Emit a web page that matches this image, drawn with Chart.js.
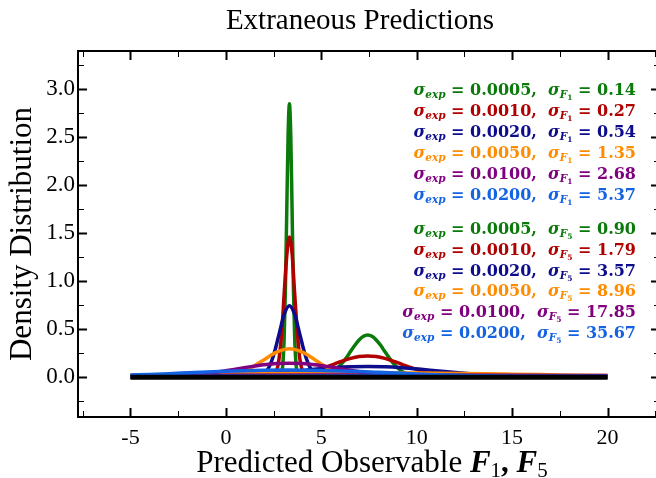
<!DOCTYPE html>
<html>
<head>
<meta charset="utf-8">
<title>Extraneous Predictions</title>
<script src="https://cdn.jsdelivr.net/npm/chart.js@4.4.1/dist/chart.umd.min.js"></script>
<style>
  html, body { margin: 0; padding: 0; background: #fff; overflow: hidden; }
  canvas { display: block; }
</style>
</head>
<body>
<canvas id="chart" width="680" height="478"></canvas>
<script>
// density curves for F1 (centred near 3.33) and F5 (centred near 7.43)
const sigmaExp = ['0.0005', '0.0010', '0.0020', '0.0050', '0.0100', '0.0200'];
const sigmaF1 = ['0.14', '0.27', '0.54', '1.35', '2.68', '5.37'];
const sigmaF5 = ['0.90', '1.79', '3.57', '8.96', '17.85', '35.67'];

const greenF1X = [-5, 2.70, 2.84, 2.91, 2.98, 3.05, 3.12, 3.19, 3.26, 3.33, 3.40, 3.47, 3.54, 3.61, 3.68, 3.75, 3.82, 3.96, 20];
const greenF1Y = [0, 0, 0.006, 0.032, 0.125, 0.386, 0.925, 1.729, 2.515, 2.85, 2.515, 1.729, 0.925, 0.386, 0.125, 0.032, 0.006, 0, 0];

const redF1X = [-5, 2.12, 2.39, 2.52, 2.66, 2.79, 2.93, 3.06, 3.20, 3.33, 3.47, 3.60, 3.74, 3.87, 4.01, 4.14, 4.28, 4.55, 20];
const redF1Y = [0, 0, 0.003, 0.016, 0.064, 0.198, 0.474, 0.886, 1.288, 1.46, 1.288, 0.886, 0.474, 0.198, 0.064, 0.016, 0.003, 0, 0];

const navyF1X = [-5, 0.90, 1.44, 1.71, 1.98, 2.25, 2.52, 2.79, 3.06, 3.33, 3.60, 3.87, 4.14, 4.41, 4.68, 4.95, 5.22, 5.76, 20];
const navyF1Y = [0, 0, 0.002, 0.008, 0.033, 0.101, 0.242, 0.452, 0.657, 0.745, 0.657, 0.452, 0.242, 0.101, 0.033, 0.008, 0.002, 0, 0];

const orangeF1X = [-5, -2.75, -1.40, -0.72, -0.05, 0.63, 1.31, 1.98, 2.66, 3.33, 4.01, 4.68, 5.36, 6.03, 6.71, 7.38, 8.06, 9.41, 20];
const orangeF1Y = [0, 0, 0.0007, 0.0033, 0.013, 0.040, 0.096, 0.180, 0.261, 0.296, 0.261, 0.180, 0.096, 0.040, 0.013, 0.0033, 0.0007, 0, 0];

const purpleF1X = [-5, -4.71, -3.37, -2.03, -0.69, -0.02, 0.65, 1.32, 1.99, 2.66, 3.33, 4.00, 4.67, 5.34, 6.01, 6.68, 7.35, 8.69, 10.03, 11.37, 12.71, 14.05, 20];
const purpleF1Y = [0.0012, 0.0016, 0.0064, 0.0198, 0.0474, 0.0668, 0.0885, 0.1102, 0.1288, 0.1415, 0.146, 0.1415, 0.1288, 0.1102, 0.0885, 0.0668, 0.0474, 0.0198, 0.0064, 0.0016, 0.0003, 0, 0];

const blueF1X = [-5, -4, -3, -2, -1, 0, 1, 2, 3, 3.33, 4, 5, 6, 7, 8, 9, 10, 11, 12, 13, 14, 15, 16, 17, 18, 19, 20];
const blueF1Y = [0.0222, 0.0291, 0.0369, 0.0452, 0.0535, 0.0611, 0.0673, 0.0718, 0.0739, 0.074, 0.0734, 0.0705, 0.0654, 0.0586, 0.0507, 0.0424, 0.0342, 0.0267, 0.0201, 0.0146, 0.0103, 0.0070, 0.0046, 0.0029, 0.0018, 0.0011, 0.0006];

const greenF5X = [-5, 3.38, 3.83, 4.28, 4.73, 5.18, 5.63, 5.86, 6.08, 6.31, 6.53, 6.76, 6.98, 7.21, 7.43, 7.66, 7.88, 8.11, 8.33, 8.56, 8.78, 9.01, 9.23, 9.68, 10.13, 10.58, 11.03, 11.48, 20];
const greenF5Y = [0, 0, 0.0001, 0.001, 0.0049, 0.0193, 0.0595, 0.0952, 0.1429, 0.2014, 0.2669, 0.3321, 0.3883, 0.4264, 0.44, 0.4264, 0.3883, 0.3321, 0.2669, 0.2014, 0.1429, 0.0952, 0.0595, 0.0193, 0.0049, 0.001, 0.0001, 0, 0];

const redF5X = [-5, -0.63, 0.27, 1.17, 2.06, 2.96, 3.85, 4.30, 4.75, 5.19, 5.64, 6.09, 6.54, 6.98, 7.43, 7.88, 8.33, 8.77, 9.22, 9.67, 10.12, 10.56, 11.01, 11.91, 12.80, 13.70, 14.59, 15.49, 20];
const redF5Y = [0, 0, 0.0001, 0.0005, 0.0025, 0.0097, 0.030, 0.048, 0.0721, 0.1016, 0.1346, 0.1676, 0.1959, 0.2152, 0.222, 0.2152, 0.1959, 0.1676, 0.1346, 0.1016, 0.0721, 0.048, 0.030, 0.0097, 0.0025, 0.0005, 0.0001, 0, 0];

const navyF5X = [-5, -3.28, -1.50, 0.29, 1.18, 2.08, 2.97, 3.86, 4.75, 5.65, 6.54, 7.43, 8.32, 9.22, 10.11, 11.00, 11.89, 12.79, 13.68, 14.57, 16.36, 18.14, 20];
const navyF5Y = [0.0003, 0.0012, 0.0049, 0.0152, 0.0242, 0.0364, 0.0513, 0.0679, 0.0845, 0.0988, 0.1086, 0.112, 0.1086, 0.0988, 0.0845, 0.0679, 0.0513, 0.0364, 0.0242, 0.0152, 0.0049, 0.0012, 0.0002];

const orangeF5X = [-5, -2.5, 0, 2.5, 5, 7.43, 10, 12.5, 15, 17.5, 20];
const orangeF5Y = [0.0170, 0.0241, 0.0316, 0.0382, 0.0429, 0.0445, 0.0427, 0.0379, 0.0311, 0.0237, 0.0166];

const purpleF5X = [-5, 0, 5, 7.43, 10, 15, 20];
const purpleF5Y = [0.0176, 0.0205, 0.0222, 0.0224, 0.0222, 0.0205, 0.0175];

const blueF5X = [-5, 0, 7.43, 15, 20];
const blueF5Y = [0.0105, 0.0110, 0.0112, 0.0110, 0.0105];

const zeroX = [-5, 20];
const zeroY = [0, 0];

const xMinorTicks = [-7.5, -2.5, 2.5, 7.5, 12.5, 17.5, 22.5];
const yMinorTicks = [-0.25, 0.25, 0.75, 1.25, 1.75, 2.25, 2.75, 3.25];

const GREEN = '#0a7a0a', RED = '#b00000', NAVY = '#0c0c8c', ORANGE = '#ff8c00', PURPLE = '#800080', BLUE = '#1463e2';
const rowColors = [GREEN, RED, NAVY, ORANGE, PURPLE, BLUE];

const SERIF = '"Liberation Serif", "Times New Roman", serif';
const BOLD_SERIF = '"DejaVu Serif", serif';

function curve(xs, ys, color, width) {
    return {
        data: xs.map((x, i) => ({ x: x, y: ys[i] })),
        borderColor: color,
        borderWidth: width,
        pointRadius: 0,
        fill: false,
        cubicInterpolationMode: 'monotone'
    };
}

// listed bottom to top
const layers = [
    curve(greenF1X, greenF1Y, GREEN, 3.5),
    curve(greenF5X, greenF5Y, GREEN, 3.5),
    curve(redF1X, redF1Y, RED, 3.5),
    curve(redF5X, redF5Y, RED, 3.5),
    curve(navyF1X, navyF1Y, NAVY, 3.5),
    curve(navyF5X, navyF5Y, NAVY, 3.5),
    curve(orangeF1X, orangeF1Y, ORANGE, 3.5),
    curve(orangeF5X, orangeF5Y, ORANGE, 3.5),
    curve(purpleF1X, purpleF1Y, PURPLE, 3.5),
    curve(purpleF5X, purpleF5Y, PURPLE, 3.5),
    curve(blueF1X, blueF1Y, BLUE, 3.5),
    curve(blueF5X, blueF5Y, BLUE, 3.5),
    curve(zeroX, zeroY, '#000', 5)
];
layers.forEach((d, i) => { d.order = layers.length - i; });

// draws a list of {text, font, dy} pieces ending at x (or centred on it)
function drawRuns(ctx, runs, x, y, align) {
    let w = 0;
    runs.forEach(r => { ctx.font = r.font; w += ctx.measureText(r.text).width; });
    let cx = align === 'center' ? x - w / 2 : x - w;
    runs.forEach(r => {
        ctx.font = r.font;
        ctx.fillText(r.text, cx, y + (r.dy || 0));
        cx += ctx.measureText(r.text).width;
    });
}

const axesFrame = {
    id: 'axesFrame',
    afterDraw(chart) {
        const { ctx, chartArea: a, scales: { x, y } } = chart;
        ctx.save();
        ctx.strokeStyle = '#000';
        const tickX = (v, len, w) => {
            const px = Math.round(x.getPixelForValue(v)) + 0.5;
            ctx.lineWidth = w;
            ctx.beginPath();
            ctx.moveTo(px, a.bottom); ctx.lineTo(px, a.bottom - len);
            ctx.moveTo(px, a.top); ctx.lineTo(px, a.top + len);
            ctx.stroke();
        };
        const tickY = (v, len, w) => {
            const py = Math.round(y.getPixelForValue(v)) + 0.5;
            ctx.lineWidth = w;
            ctx.beginPath();
            ctx.moveTo(a.left, py); ctx.lineTo(a.left + len, py);
            ctx.moveTo(a.right, py); ctx.lineTo(a.right - len, py);
            ctx.stroke();
        };
        x.ticks.forEach(t => tickX(t.value, 9, 2));
        xMinorTicks.forEach(v => tickX(v, 6, 1));
        y.ticks.forEach(t => tickY(t.value, 9, 2));
        yMinorTicks.forEach(v => tickY(v, 6, 1));
        ctx.lineWidth = 2;
        ctx.strokeRect(a.left, a.top, a.right - a.left, a.bottom - a.top);
        ctx.restore();
    }
};

const textLayer = {
    id: 'textLayer',
    afterDraw(chart) {
        const { ctx } = chart;
        ctx.save();
        ctx.fillStyle = '#000';
        ctx.textBaseline = 'alphabetic';

        ctx.font = '29px ' + SERIF;
        ctx.textAlign = 'center';
        ctx.fillText('Extraneous Predictions', 360, 29);

        ctx.save();
        ctx.translate(31, 234);
        ctx.rotate(-Math.PI / 2);
        ctx.font = '31px ' + SERIF;
        ctx.fillText('Density Distribution', 0, 0);
        ctx.restore();
        ctx.textAlign = 'left';

        const big = '31px ' + SERIF;
        const bigF = 'italic bold 31px ' + SERIF;
        const sub = '21px ' + SERIF;
        drawRuns(ctx, [
            { text: 'Predicted Observable ', font: big },
            { text: 'F', font: bigF },
            { text: '1', font: sub, dy: 5 },
            { text: ', ', font: 'bold 31px ' + SERIF },
            { text: 'F', font: bigF },
            { text: '5', font: sub, dy: 5 }
        ], 372, 472, 'center');

        const main = 'bold 16px ' + BOLD_SERIF;
        const sym = 'italic bold 16px ' + BOLD_SERIF;
        const sub1 = 'italic bold 10.5px ' + BOLD_SERIF;
        const sub2 = 'bold 7.5px ' + BOLD_SERIF;
        const row = (i, idx, vals, y) => {
            ctx.fillStyle = rowColors[i];
            drawRuns(ctx, [
                { text: 'σ', font: sym },
                { text: 'exp', font: sub1, dy: 3 },
                { text: ' = ' + sigmaExp[i] + ',  ', font: main },
                { text: 'σ', font: sym },
                { text: 'F', font: sub1, dy: 3 },
                { text: idx, font: sub2, dy: 5 },
                { text: ' = ' + vals[i], font: main }
            ], 636, y);
        };
        for (let i = 0; i < 6; i++) row(i, '1', sigmaF1, 95 + i * 20.9);
        for (let i = 0; i < 6; i++) row(i, '5', sigmaF5, 234 + i * 20.8);
        ctx.restore();
    }
};

new Chart(document.getElementById('chart'), {
    type: 'line',
    data: { datasets: layers },
    options: {
        responsive: false,
        animation: false,
        devicePixelRatio: 1,
        layout: { padding: { top: 51, right: 20, left: 0, bottom: 0 } },
        plugins: { legend: { display: false }, tooltip: { enabled: false } },
        scales: {
            x: {
                type: 'linear',
                min: -7.75,
                max: 22.75,
                grid: { display: false, drawTicks: false },
                border: { display: false },
                ticks: {
                    stepSize: 5,
                    includeBounds: false,
                    autoSkip: false,
                    maxRotation: 0,
                    padding: 8,
                    color: '#000',
                    font: { family: SERIF, size: 22 },
                    callback: v => String(v)
                },
                afterFit: s => { s.height = 61; }
            },
            y: {
                type: 'linear',
                min: -0.415,
                max: 3.4,
                grid: { display: false, drawTicks: false },
                border: { display: false },
                ticks: {
                    stepSize: 0.5,
                    includeBounds: false,
                    padding: 3,
                    color: '#000',
                    font: { family: SERIF, size: 23 },
                    callback: v => v.toFixed(1)
                },
                afterFit: s => { s.width = 78; }
            }
        }
    },
    plugins: [axesFrame, textLayer]
});
</script>
</body>
</html>
